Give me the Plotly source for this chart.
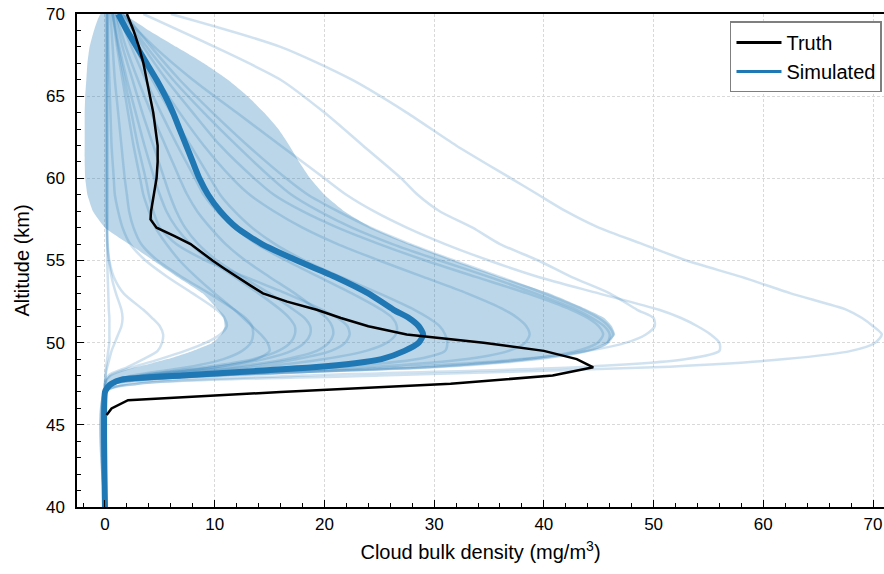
import plotly.graph_objects as go

BLUE = "#1f77b4"

# ---------------- Truth profile ----------------
truth_alt = [45.6, 46.0, 46.5, 47.0, 47.5, 48.0, 48.5, 49.0, 49.5, 50.0, 50.5,
             51.0, 51.5, 52.0, 52.5, 53.0, 53.5, 54.0, 54.5, 55.0, 55.5, 56.0, 56.5,
             57.0, 57.5, 58.0, 59.0, 60.0, 61.0, 62.0, 63.0, 64.0, 65.0, 66.0, 67.0,
             68.0, 69.0, 70.0]
truth_val = [0.15, 0.6, 2.1, 16.0, 31.5, 40.8, 44.5, 43.0, 40.0, 34.5, 27.5,
             24.0, 21.5, 19.3, 16.6, 14.4, 13.2, 12.0, 10.9, 9.8, 8.8, 7.8, 6.3,
             4.7, 4.15, 4.2, 4.45, 4.7, 4.8, 4.8, 4.6, 4.4, 4.1, 3.8, 3.5,
             3.1, 2.6, 2.0]

# ---------------- Simulated mean and spread band ----------------
sim_alt = [40.0, 47.0, 47.25, 47.5, 47.75, 48.0, 48.25, 48.5, 48.75, 49.0, 49.5, 50.0,
           50.5, 51.0, 51.5, 52.0, 53.0, 54.0, 55.0, 56.0, 57.0, 58.0, 59.0, 60.0,
           61.0, 62.0, 63.0, 64.0, 65.0, 66.0, 67.0, 68.0, 69.0, 70.0]
sim_mean = [0.0, 0.0, 0.2, 0.6, 1.5, 7.0, 13.0, 19.0, 22.8, 25.2, 27.3, 28.6,
            29.0, 28.6, 27.7, 26.3, 24.0, 21.0, 17.5, 14.3, 12.0, 10.5, 9.4, 8.6,
            8.0, 7.4, 6.8, 6.2, 5.5, 4.7, 3.8, 2.9, 2.0, 1.2]
band_lo = [0.0, 0.0, 0.0, 0.05, 0.1, 0.4, 1.4, 2.8, 4.3, 5.7, 8.0, 9.8,
           10.6, 10.9, 10.8, 10.3, 8.9, 6.6, 4.4, 2.2, 0.0, -1.1, -1.6, -1.8,
           -1.85, -1.85, -1.85, -1.85, -1.8, -1.7, -1.6, -1.4, -1.0, -0.4]
band_hi = [0.0, 0.0, 0.2, 0.6, 1.8, 7.5, 17.0, 26.0, 33.5, 38.0, 43.5, 45.8,
           46.5, 46.2, 45.5, 44.0, 40.5, 36.0, 31.8, 27.8, 24.3, 21.8, 20.0, 18.7,
           17.7, 16.8, 15.8, 14.5, 13.0, 11.2, 9.0, 6.5, 4.0, 1.6]

# ---------------- Individual simulated members ----------------
member_alt = [40.0, 47.0, 47.5, 48.0, 48.5, 49.0, 49.5, 50.0, 50.5, 51.0, 51.5, 52.0,
              53.0, 54.0, 55.0, 56.0, 57.0, 58.0, 59.0, 60.0, 62.0, 64.0, 66.0, 68.0, 70.0]
members = [
    [0, 0, 0, 0.05, 0.1, 0.2, 0.3, 0.4, 0.4, 0.4, 0.4, 0.35, 0.3, 0.25, 0.2, 0.2, 0.2, 0.2, 0.2, 0.2, 0.2, 0.2, 0.2, 0.2, 0.2],
    [0, 0, 0, 0.05, 0.2, 0.4, 0.6, 0.9, 1.2, 1.5, 1.6, 1.5, 1.0, 0.6, 0.35, 0.2, 0.15, 0.1, 0.1, 0.1, 0.1, 0.1, 0.1, 0.1, 0.1],
    [0, 0, 0, 0.3, 2.0, 3.5, 4.8, 5.2, 5.3, 5.0, 4.3, 3.5, 1.7, 0.8, 0.4, 0.25, 0.2, 0.2, 0.2, 0.2, 0.2, 0.2, 0.2, 0.2, 0.2],
    [0, 0, 0, 0.5, 2.5, 5.0, 7.3, 9.2, 10.5, 11.1, 10.9, 10.2, 8.0, 5.7, 3.7, 2.3, 1.6, 1.2, 0.9, 0.8, 0.6, 0.5, 0.4, 0.3, 0.3],
    [0, 0, 0.3, 2.5, 7.5, 10.8, 12.5, 13.3, 13.5, 13.4, 12.8, 11.8, 9.5, 7.0, 4.8, 3.3, 2.6, 2.2, 2.0, 1.8, 1.5, 1.2, 0.9, 0.7, 0.5],
    [0, 0, 0.4, 3.5, 10.0, 13.8, 15.0, 14.8, 14.2, 13.4, 12.6, 11.8, 10.0, 8.3, 6.8, 5.6, 4.6, 4.0, 3.5, 3.2, 2.6, 2.1, 1.6, 1.1, 0.7],
    [0, 0, 0.3, 3.0, 9.0, 13.5, 15.8, 16.9, 17.3, 17.3, 16.8, 16.0, 14.0, 11.8, 9.6, 7.8, 6.5, 5.6, 5.0, 4.5, 3.6, 2.8, 2.0, 1.3, 0.7],
    [0, 0, 0.3, 3.5, 10.0, 14.5, 17.0, 18.2, 18.7, 18.7, 18.2, 17.2, 15.0, 12.5, 10.2, 8.5, 7.3, 6.5, 5.9, 5.4, 4.4, 3.4, 2.5, 1.6, 0.9],
    [0, 0, 0.4, 4.0, 11.5, 16.5, 19.3, 20.4, 20.8, 20.7, 20.2, 19.3, 17.3, 15.0, 12.8, 11.0, 9.6, 8.4, 7.5, 6.8, 5.5, 4.2, 3.0, 1.9, 1.0],
    [0, 0, 0.4, 4.5, 12.5, 17.5, 20.6, 21.9, 22.3, 22.1, 21.2, 19.8, 16.5, 12.8, 9.2, 6.5, 5.0, 4.4, 4.0, 3.7, 3.0, 2.4, 1.8, 1.2, 0.7],
    [0, 0, 0.5, 5.0, 14.0, 20.0, 23.8, 25.7, 26.5, 26.6, 26.2, 25.2, 22.5, 19.5, 16.5, 13.8, 11.8, 10.2, 9.0, 8.2, 6.6, 5.1, 3.7, 2.4, 1.2],
    [0, 0, 0.6, 7.0, 21.0, 28.5, 31.0, 31.2, 31.0, 30.5, 29.5, 28.2, 25.0, 21.5, 18.2, 15.5, 13.4, 11.8, 10.5, 9.6, 7.8, 6.0, 4.3, 2.7, 1.3],
    [0, 0, 0.7, 8.0, 24.0, 33.0, 36.8, 38.3, 38.7, 38.4, 37.6, 36.4, 33.0, 29.0, 25.0, 21.2, 18.0, 15.4, 13.2, 11.6, 9.0, 6.8, 4.8, 3.0, 1.4],
    [0, 0, 0.8, 10.0, 29.0, 38.5, 43.0, 44.9, 45.4, 45.0, 44.0, 42.5, 38.5, 33.8, 29.2, 25.0, 21.2, 18.0, 15.4, 13.6, 10.5, 8.0, 5.6, 3.5, 1.6],
    [0, 0, 0.8, 10.0, 29.0, 39.0, 43.8, 45.8, 46.3, 45.9, 45.0, 43.6, 40.0, 36.0, 31.8, 27.8, 24.2, 21.2, 18.5, 16.5, 13.0, 9.8, 6.8, 4.2, 1.8],
    [0, 0, 0.8, 10.0, 30.0, 39.5, 44.0, 45.8, 46.0, 45.5, 44.4, 43.0, 39.2, 35.0, 30.5, 26.2, 22.5, 19.5, 17.0, 15.2, 12.0, 9.0, 6.2, 3.8, 1.7],
    [0, 0, 2.0, 12.0, 27.0, 38.0, 44.0, 47.5, 49.3, 50.1, 50.0, 48.5, 46.0, 42.5, 39.5, 36.0, 33.5, 30.5, 28.5, 27.0, 23.5, 20.0, 16.0, 10.0, 3.5],
    [0, 0, 3.0, 18.0, 43.0, 53.0, 56.0, 56.0, 55.2, 54.0, 52.5, 50.5, 45.0, 39.5, 35.0, 31.0, 27.5, 24.5, 22.0, 20.0, 16.0, 12.0, 8.0, 4.5, 1.5],
    [0, 0, 3.0, 25.0, 50.0, 62.0, 68.0, 70.2, 70.8, 70.0, 69.0, 67.6, 62.5, 58.0, 53.0, 49.0, 45.0, 42.0, 39.5, 37.0, 32.0, 27.5, 22.5, 16.0, 6.0],
]

# ---------------- Axis ticks ----------------
x_ticks = [0, 10, 20, 30, 40, 50, 60, 70]
y_ticks = [40, 45, 50, 55, 60, 65, 70]

FONT = "Liberation Sans, Arial, sans-serif"

fig = go.Figure()

# faint individual members
for m in members:
    fig.add_trace(go.Scatter(
        x=m, y=member_alt, mode="lines",
        line=dict(color="rgba(31,119,180,0.21)", width=2.5, shape="spline", smoothing=0.7),
        showlegend=False, hoverinfo="skip"))

# spread band
fig.add_trace(go.Scatter(
    x=band_hi + band_lo[::-1], y=sim_alt + sim_alt[::-1],
    mode="lines", fill="toself", fillcolor="rgba(31,119,180,0.3)",
    line=dict(width=0, color="rgba(31,119,180,0)", shape="spline", smoothing=0.4),
    showlegend=False, hoverinfo="skip"))

# mean simulated
fig.add_trace(go.Scatter(
    x=sim_mean, y=sim_alt, mode="lines",
    line=dict(color=BLUE, width=6, shape="spline", smoothing=0.6),
    showlegend=False))

# truth
fig.add_trace(go.Scatter(
    x=truth_val, y=truth_alt, mode="lines",
    line=dict(color="black", width=2.5),
    showlegend=False))

# legend entries
fig.add_trace(go.Scatter(x=[None], y=[None], mode="lines",
                         line=dict(color="black", width=3), name="Truth"))
fig.add_trace(go.Scatter(x=[None], y=[None], mode="lines",
                         line=dict(color=BLUE, width=3), name="Simulated"))

axis_common = dict(
    showline=True, linecolor="black", linewidth=1.5,
    ticks="inside", ticklen=7, tickwidth=1.3, tickcolor="black",
    showgrid=True, gridcolor="#d9d9d9", gridwidth=1, griddash="3px,2px",
    zeroline=False, automargin=False,
    tickfont=dict(family=FONT, size=17, color="black"),
)

fig.update_xaxes(
    **axis_common,
    range=[-2.55, 71.0], tickvals=x_ticks, mirror=True,
    minor=dict(ticks="inside", ticklen=4, tickwidth=1.2, tickcolor="black", dtick=2, tick0=0, showgrid=False),
    title=dict(text="Cloud bulk density (mg/m<sup>3</sup>)", font=dict(family=FONT, size=20, color="black"), standoff=12),
    ticklabelstandoff=1,
)
fig.update_yaxes(
    **axis_common,
    range=[40, 70], tickvals=y_ticks,
    minor=dict(ticks="inside", ticklen=4, tickwidth=1.2, tickcolor="black", dtick=1, tick0=40, showgrid=False),
    title=dict(text="Altitude (km)", font=dict(family=FONT, size=20, color="black"), standoff=11),
    ticklabelstandoff=7,
)

fig.update_layout(
    width=884, height=574,
    margin=dict(l=77, r=0, t=14, b=67, autoexpand=False),
    paper_bgcolor="white", plot_bgcolor="white",
    font=dict(family=FONT, size=17, color="black"),
    legend=dict(x=0.9975, xanchor="right", y=0.985, yanchor="top",
                bgcolor="white", bordercolor="#7f7f7f", borderwidth=1.5,
                font=dict(family=FONT, size=20, color="black"),
                itemwidth=45, tracegroupgap=2),
    showlegend=True,
)

fig.write_html("out.html", config={"displayModeBar": False},
               post_script="document.body.style.margin='0';document.body.style.overflow='hidden';")
